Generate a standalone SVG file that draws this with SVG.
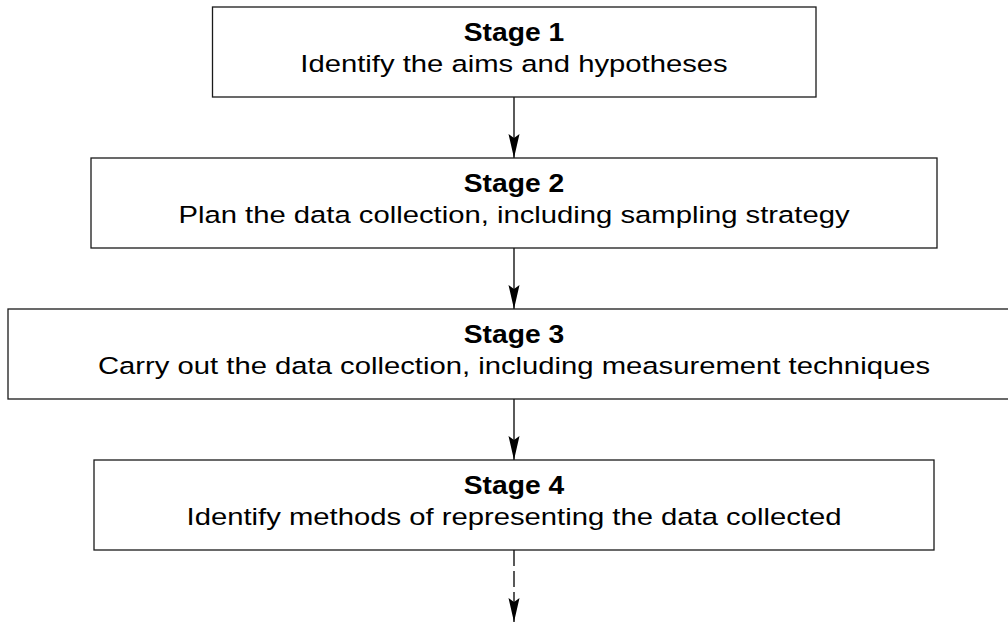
<svg xmlns="http://www.w3.org/2000/svg" width="1008" height="625" viewBox="0 0 1008 625">
<style>
.box{fill:#fff;stroke:#1a1a1a;stroke-width:1.3}
.t1{font-family:"Liberation Sans",Arial,sans-serif;font-weight:bold;font-size:25px;fill:#000;text-anchor:middle}
.t2{font-family:"Liberation Sans",Arial,sans-serif;font-size:23.5px;fill:#000;text-anchor:middle}
.conn{stroke:#000;stroke-width:1.3;fill:none}
</style>
<defs>
<marker id="ah" viewBox="0 0 24 12" markerWidth="24" markerHeight="12" refX="24" refY="6" orient="auto" markerUnits="userSpaceOnUse">
<path d="M0,0.5 L24,6 L0,11.5 L4,6 Z" fill="#000"/>
</marker>
</defs>
<rect width="1008" height="625" fill="#fff"/>
<g id="connectors">
<line class="conn" x1="514" y1="97" x2="514" y2="158" marker-end="url(#ah)"/>
<line class="conn" x1="514" y1="248" x2="514" y2="309" marker-end="url(#ah)"/>
<line class="conn" x1="514" y1="399" x2="514" y2="460" marker-end="url(#ah)"/>
<line class="conn" x1="514" y1="550" x2="514" y2="622" stroke-dasharray="16 5" marker-end="url(#ah)"/>
</g>
<g id="stage1">
<rect class="box" x="212.5" y="7" width="603.5" height="90"/>
<text class="t1" transform="translate(514 41) scale(1.13 1)">Stage 1</text>
<text class="t2" transform="translate(514 72) scale(1.245 1)">Identify the aims and hypotheses</text>
</g>
<g id="stage2">
<rect class="box" x="91" y="158" width="846" height="90"/>
<text class="t1" transform="translate(514 192) scale(1.13 1)">Stage 2</text>
<text class="t2" transform="translate(514 223) scale(1.245 1)">Plan the data collection, including sampling strategy</text>
</g>
<g id="stage3">
<rect class="box" x="8" y="309" width="1012" height="90"/>
<text class="t1" transform="translate(514 343) scale(1.13 1)">Stage 3</text>
<text class="t2" transform="translate(514 374) scale(1.245 1)">Carry out the data collection, including measurement techniques</text>
</g>
<g id="stage4">
<rect class="box" x="94" y="460" width="840" height="90"/>
<text class="t1" transform="translate(514 494) scale(1.13 1)">Stage 4</text>
<text class="t2" transform="translate(514 525) scale(1.245 1)">Identify methods of representing the data collected</text>
</g>
</svg>
